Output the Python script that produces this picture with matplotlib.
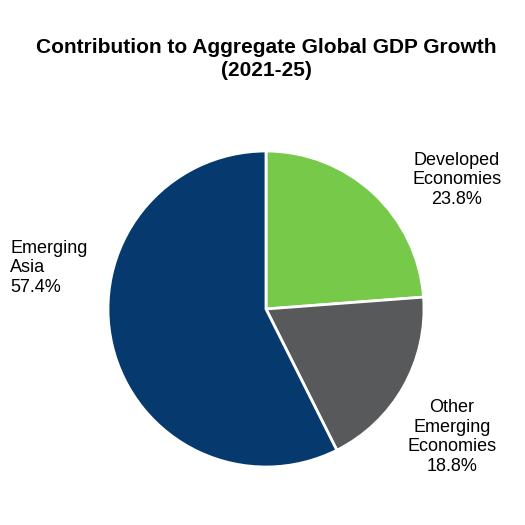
import matplotlib
matplotlib.use("Agg")
import matplotlib.pyplot as plt

plt.rcParams['font.family'] = ['Liberation Sans', 'DejaVu Sans']

# slices, clockwise from 12 o'clock
labels = ['Developed\nEconomies', 'Other\nEmerging\nEconomies', 'Emerging\nAsia']
shares = [23.8, 18.8, 57.4]
colors = ['#77C94A', '#58595B', '#063A6E']

W = 525
fig = plt.figure(figsize=(5.25, 5.25), dpi=100)

# pie centre ~ (266, 309) px, radius ~158 px
cx, cy, r = 266 / W, 1 - 309 / W, 158 / W
ax = fig.add_axes([cx - r, cy - r, 2 * r, 2 * r])
ax.pie(shares, colors=colors, startangle=90, counterclock=False,
       radius=1, wedgeprops=dict(edgecolor='white', linewidth=2))
ax.set_xlim(-1, 1)
ax.set_ylim(-1, 1)
ax.set_aspect('equal')
ax.axis('off')

fig.text(266 / W, 1 - 59 / W, 'Contribution to Aggregate Global GDP Growth\n(2021-25)',
         ha='center', va='center', fontsize=15, fontweight='bold', linespacing=1.3)

# label positions (px) and alignment
pos = [(457, 180, 'center'), (452, 437, 'center'), (10, 268, 'left')]
for lab, val, (x, y, ha) in zip(labels, shares, pos):
    fig.text(x / W, 1 - y / W, f'{lab}\n{val:.1f}%', ha=ha, va='center',
             fontsize=13, linespacing=1.2, multialignment=ha)

fig.savefig('out.png', dpi=100)
